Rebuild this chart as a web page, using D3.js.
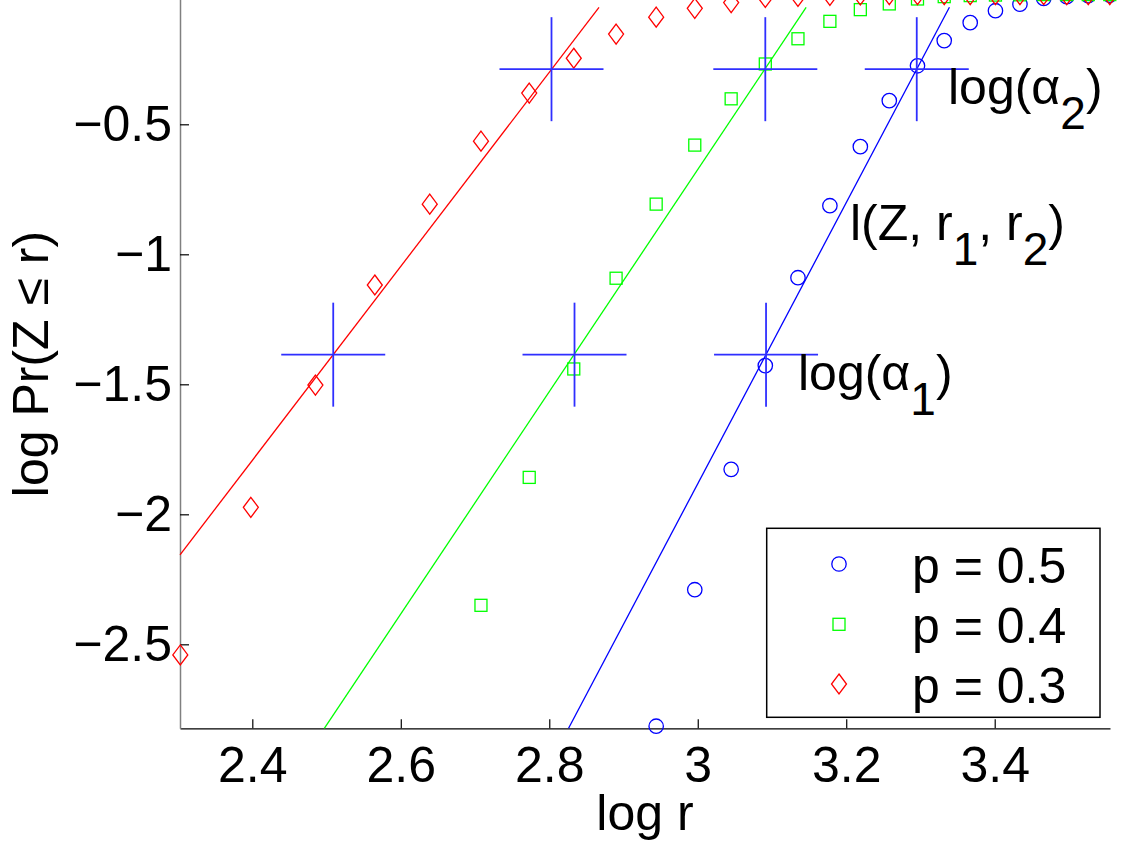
<!DOCTYPE html>
<html>
<head>
<meta charset="utf-8">
<script src="https://cdn.jsdelivr.net/npm/d3@7"></script>
<style>
  html, body { margin: 0; padding: 0; background: #fff; }
  svg { display: block; font-family: "Liberation Sans", Arial, sans-serif; }
</style>
</head>
<body>
<div id="app"></div>
<script>
// log r grid shared by all three series (r = 10 .. 35)
const logR = [2.303, 2.398, 2.485, 2.565, 2.639, 2.708, 2.773, 2.833, 2.890, 2.944,
  2.996, 3.045, 3.091, 3.135, 3.178, 3.219, 3.258, 3.296, 3.332, 3.367,
  3.401, 3.434, 3.466, 3.497, 3.526, 3.555];

// log Pr(Z <= r), null = below the visible range
const p05 = [null, null, null, null, null, null, null, null, null, -2.815,
  -2.290, -1.827, -1.428, -1.090, -0.813, -0.586, -0.409, -0.275, -0.178, -0.109,
  -0.063, -0.038, -0.016, -0.009, -0.005, -0.003];
const p04 = [null, null, null, null, null, -2.350, -1.858, -1.441, -1.092, -0.807,
  -0.580, -0.402, -0.268, -0.171, -0.104, -0.059, -0.037, -0.018, -0.009, -0.005,
  -0.003, -0.002, -0.001, -0.001, -0.001, -0.001];
const p03 = [-2.541, -1.973, -1.503, -1.118, -0.807, -0.565, -0.380, -0.246, -0.153, -0.088,
  -0.054, -0.032, -0.012, -0.008, -0.004, -0.002, -0.001, -0.001, -0.001, -0.001,
  -0.001, -0.001, -0.001, -0.001, -0.001, -0.001];

// fitted lines, endpoints [logr, logPr]
const fit05 = [[2.826, -2.823], [3.339, -0.050]];
const fit04 = [[2.497, -2.823], [3.146, -0.050]];
const fit03 = [[2.3026, -2.156], [2.867, -0.050]];

// crosses where fits meet log(alpha1) and log(alpha2)
const logAlpha = [-1.386, -0.288];
const crossLow = [2.509, 2.834, 3.092];
const crossHigh = [2.803, 3.091, 3.295];

const xTicks = [2.4, 2.6, 2.8, 3, 3.2, 3.4];
const xTickLabels = ["2.4", "2.6", "2.8", "3", "3.2", "3.4"];
const yTicks = [-2.5, -2, -1.5, -1, -0.5];
const yTickLabels = ["\u22122.5", "\u22122", "\u22121.5", "\u22121", "\u22120.5"];

const legendLabels = ["p = 0.5", "p = 0.4", "p = 0.3"];

const W = 1125, H = 848;
const FS = 50;

const svg = d3.select("#app").append("svg")
  .attr("width", W).attr("height", H);
svg.append("rect").attr("width", W).attr("height", H).attr("fill", "#fff");

const x = d3.scaleLinear().domain([2.3026, 3.5553]).range([180, 1110]);
const y = d3.scaleLinear().domain([-2.823, 0]).range([728.3, -5.7]);

// axes
const xAxis = d3.axisBottom(x)
  .tickValues(xTicks)
  .tickFormat((d, i) => xTickLabels[i])
  .tickSizeInner(-9).tickSizeOuter(0).tickPadding(18);
const gx = svg.append("g").attr("transform", "translate(0,728.3)").call(xAxis);
gx.select(".domain").attr("stroke", "#000").attr("stroke-width", 1.3);
gx.selectAll(".tick line").attr("stroke", "#000").attr("stroke-width", 1.2);
gx.selectAll(".tick text").attr("font-size", FS).attr("fill", "#000")
  .attr("font-family", "Liberation Sans, Arial, sans-serif");

const yAxis = d3.axisLeft(y)
  .tickValues(yTicks)
  .tickFormat((d, i) => yTickLabels[i])
  .tickSizeInner(-9).tickSizeOuter(0).tickPadding(8);
const gy = svg.append("g").attr("transform", "translate(180,0)").call(yAxis);
gy.select(".domain").attr("stroke", "#808080").attr("stroke-width", 1.5);
gy.selectAll(".tick line").attr("stroke", "#000").attr("stroke-width", 1.2);
gy.selectAll(".tick text").attr("font-size", FS).attr("fill", "#000")
  .attr("font-family", "Liberation Sans, Arial, sans-serif");

// axis labels
svg.append("text")
  .attr("x", 645).attr("y", 830)
  .attr("text-anchor", "middle").attr("font-size", FS)
  .text("log r");
svg.append("text")
  .attr("transform", "translate(48,364) rotate(-90)")
  .attr("text-anchor", "middle").attr("font-size", FS)
  .text("log Pr(Z \u2264 r)");

// fit lines
const line = d3.line().x(d => x(d[0])).y(d => y(d[1]));
[[fit05, "#0000ff"], [fit04, "#00ff00"], [fit03, "#ff0000"]].forEach(([pts, c]) => {
  svg.append("path").attr("d", line(pts))
    .attr("fill", "none").attr("stroke", c).attr("stroke-width", 1.3);
});

// markers
const diamond = (cx, cy) => `M${cx},${cy - 10}L${cx + 7.5},${cy}L${cx},${cy + 10}L${cx - 7.5},${cy}Z`;

const drawSeries = (vals, kind, color) => {
  const pts = vals.map((v, i) => [logR[i], v]).filter(d => d[1] !== null);
  const g = svg.append("g").attr("fill", "none").attr("stroke", color).attr("stroke-width", 1.3);
  if (kind === "circle") {
    g.selectAll("circle").data(pts).enter().append("circle")
      .attr("cx", d => x(d[0])).attr("cy", d => y(d[1])).attr("r", 7.2);
  } else if (kind === "square") {
    g.selectAll("rect").data(pts).enter().append("rect")
      .attr("x", d => x(d[0]) - 6).attr("y", d => y(d[1]) - 6)
      .attr("width", 12).attr("height", 12);
  } else {
    g.selectAll("path").data(pts).enter().append("path")
      .attr("d", d => diamond(x(d[0]), y(d[1])));
  }
};
drawSeries(p05, "circle", "#0000ff");
drawSeries(p04, "square", "#00ff00");
drawSeries(p03, "diamond", "#ff0000");

// crosses
const crosses = crossLow.map(v => [v, logAlpha[0]]).concat(crossHigh.map(v => [v, logAlpha[1]]));
const cg = svg.append("g").attr("stroke", "#2f2fff").attr("stroke-width", 1.8);
crosses.forEach(d => {
  const cx = x(d[0]), cy = y(d[1]);
  cg.append("line").attr("x1", cx - 52).attr("x2", cx + 52).attr("y1", cy).attr("y2", cy);
  cg.append("line").attr("x1", cx).attr("x2", cx).attr("y1", cy - 52).attr("y2", cy + 52);
});

// annotations with subscripts
const annot = (tx, ty, parts) => {
  const t = svg.append("text").attr("x", tx).attr("y", ty).attr("font-size", FS);
  let shift = 0;
  parts.forEach(([s, sub]) => {
    const dy = (sub ? 25 : 0) - shift;
    shift = sub ? 25 : 0;
    t.append("tspan").attr("dy", dy).attr("font-size", sub ? 46 : FS).text(s);
  });
};
annot(948, 104, [["log(\u03b1", false], ["2", true], [")", false]]);
annot(850, 240, [["l(Z, r", false], ["1", true], [", r", false], ["2", true], [")", false]]);
annot(798, 390, [["log(\u03b1", false], ["1", true], [")", false]]);

// legend
svg.append("rect")
  .attr("x", 766.7).attr("y", 528.3).attr("width", 333.3).attr("height", 189)
  .attr("fill", "#fff").attr("stroke", "#000").attr("stroke-width", 1.5);
const legY = [564, 624.3, 684];
const legKinds = [["circle", "#0000ff"], ["square", "#00ff00"], ["diamond", "#ff0000"]];
legKinds.forEach(([k, c], i) => {
  const cx = 839, cy = legY[i];
  if (k === "circle") {
    svg.append("circle").attr("cx", cx).attr("cy", cy).attr("r", 7.2)
      .attr("fill", "none").attr("stroke", c).attr("stroke-width", 1.3);
  } else if (k === "square") {
    svg.append("rect").attr("x", cx - 6).attr("y", cy - 6).attr("width", 12).attr("height", 12)
      .attr("fill", "none").attr("stroke", c).attr("stroke-width", 1.3);
  } else {
    svg.append("path").attr("d", diamond(cx, cy))
      .attr("fill", "none").attr("stroke", c).attr("stroke-width", 1.3);
  }
  svg.append("text").attr("x", 912).attr("y", cy + 19).attr("font-size", FS)
    .text(legendLabels[i]);
});
</script>
</body>
</html>
